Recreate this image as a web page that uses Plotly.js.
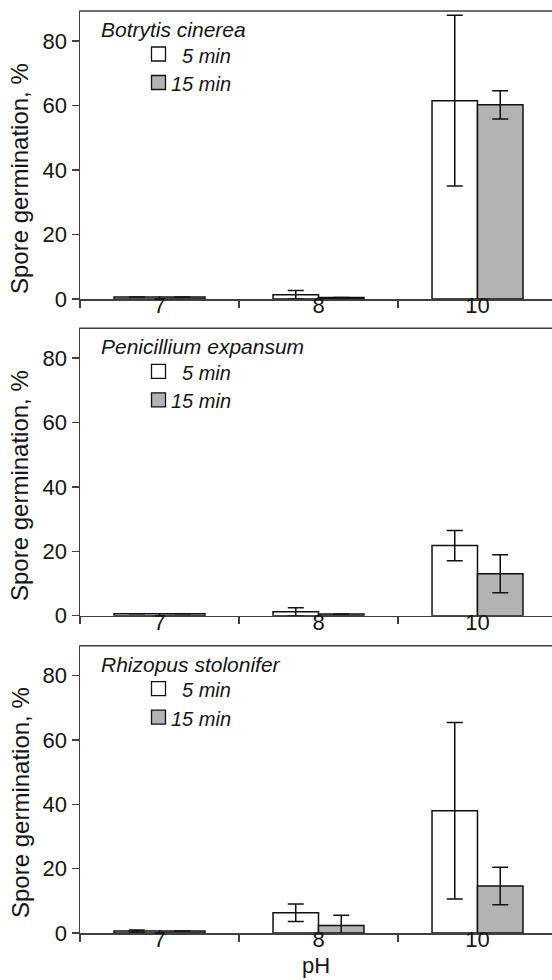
<!DOCTYPE html>
<html><head><meta charset="utf-8">
<script src="https://cdn.plot.ly/plotly-3.0.1.min.js"></script>
<style>html,body{margin:0;padding:0;overflow:hidden;background:#fff}</style>
</head><body><div id="chart" style="width:552px;height:980px"></div>
<script>
// ---- data ----
const pH = ['7', '8', '10'];
const seriesNames = ['5 min', '15 min'];
const speciesNames = ['Botrytis cinerea', 'Penicillium expansum', 'Rhizopus stolonifer'];

const botrytis5 = [0.6, 1.3, 61.5];
const botrytis5Err = [0, 1.3, 26.5];
const botrytis15 = [0.6, 0.5, 60.2];
const botrytis15Err = [0, 0, 4.4];

const penicillium5 = [0.6, 1.2, 21.8];
const penicillium5Err = [0, 1.3, 4.7];
const penicillium15 = [0.6, 0.5, 13.0];
const penicillium15Err = [0, 0, 5.9];

const rhizopus5 = [0.6, 6.3, 38.0];
const rhizopus5Err = [0.3, 2.75, 27.4];
const rhizopus15 = [0.6, 2.3, 14.6];
const rhizopus15Err = [0, 3.2, 5.8];

const yTicks = [0, 20, 40, 60, 80];
const yTitle = 'Spore germination, %';
const xTitle = 'pH';

// ---- layout helpers ----
const W = 552, H = 980, ML = 80, MR = 0, MT = 11, MB = 47;
const PW = W - ML - MR, PH = H - MT - MB;
const px = p => (p - ML) / PW;
const py = p => (H - MB - p) / PH;
const panelTop = [11, 328.3, 645.7];
const panelZero = [299, 615.7, 933];
const titleCenter = [179, 486, 803];
const fills = ['#ffffff', '#b3b3b3'];
const FONT = 'Liberation Sans, Arial, sans-serif';
const AX = '#404040';
const TXT = '#151515';

const panels = [
  [[botrytis5, botrytis5Err], [botrytis15, botrytis15Err]],
  [[penicillium5, penicillium5Err], [penicillium15, penicillium15Err]],
  [[rhizopus5, rhizopus5Err], [rhizopus15, rhizopus15Err]]
];

const traces = [];
panels.forEach((pan, i) => {
  pan.forEach((s, j) => {
    traces.push({
      type: 'bar', x: pH, y: s[0], name: seriesNames[j],
      xaxis: i === 0 ? 'x' : 'x' + (i + 1),
      yaxis: i === 0 ? 'y' : 'y' + (i + 1),
      marker: {color: fills[j], line: {color: '#111', width: 1.5}},
      error_y: {type: 'data', array: s[1], visible: true, color: '#111', thickness: 1.5, width: 8},
      showlegend: false, hoverinfo: 'skip'
    });
  });
});

const layout = {
  width: W, height: H,
  margin: {l: ML, r: MR, t: MT, b: MB},
  paper_bgcolor: '#fff', plot_bgcolor: '#fff',
  font: {family: FONT, color: TXT, size: 22},
  barmode: 'group', bargap: 0.428, bargroupgap: 0,
  showlegend: false,
  shapes: [], annotations: []
};

for (let i = 0; i < 3; i++) {
  const sx = i === 0 ? '' : String(i + 1);
  layout['xaxis' + sx] = {
    type: 'category', anchor: 'y' + sx, range: [-0.5, 2.4686],
    showline: true, linecolor: AX, linewidth: 1.5, mirror: false,
    ticks: 'outside', tickson: 'boundaries', ticklen: 7, tickwidth: 1.5, tickcolor: AX,
    ticklabelstandoff: -14,
    tickfont: {size: 22, color: TXT}, showgrid: false, zeroline: false, fixedrange: true
  };
  layout['yaxis' + sx] = {
    domain: [py(panelZero[i]), py(panelTop[i])], anchor: 'x' + sx,
    range: [0, 89.3], tickvals: yTicks, ticktext: yTicks.map(String),
    showline: true, linecolor: AX, linewidth: 1.5, mirror: false,
    ticks: 'outside', ticklen: 7, tickwidth: 1.5, tickcolor: AX,
    tickfont: {size: 22, color: TXT}, showgrid: false, zeroline: false, fixedrange: true
  };
  const top = panelTop[i];
  // top frame line of the panel
  layout.shapes.push({
    type: 'line', xref: 'paper', yref: 'paper',
    x0: px(79.25), x1: 1, y0: py(top), y1: py(top),
    line: {color: AX, width: 1.5}
  });
  // species label
  layout.annotations.push({
    xref: 'paper', yref: 'paper', x: px(99), y: py(top + 18.5),
    xanchor: 'left', yanchor: 'middle', showarrow: false,
    text: '<i>' + speciesNames[i] + '</i>', font: {size: 21, color: TXT}
  });
  // legend swatches and labels
  [43, 71.5].forEach((off, j) => {
    layout.shapes.push({
      type: 'rect', xref: 'paper', yref: 'paper',
      x0: px(151.5), x1: px(165.5), y0: py(top + off + 7), y1: py(top + off - 7),
      line: {color: '#111', width: 1.3}, fillcolor: fills[j]
    });
    layout.annotations.push({
      xref: 'paper', yref: 'paper', x: px(233), y: py(top + off + 1.5),
      xanchor: 'right', yanchor: 'middle', showarrow: false,
      text: '<i>' + seriesNames[j] + '</i>', font: {size: 20, color: TXT}
    });
  });
  // y title
  layout.annotations.push({
    xref: 'paper', yref: 'paper', x: px(20), y: py(titleCenter[i]),
    xanchor: 'center', yanchor: 'middle', showarrow: false, textangle: -90,
    text: yTitle, font: {size: 24, color: TXT}
  });
}
layout.xaxis3.title = {text: xTitle, font: {size: 22, color: TXT}, standoff: 6};

Plotly.newPlot('chart', traces, layout, {staticPlot: true, displayModeBar: false});
</script>
</body></html>
